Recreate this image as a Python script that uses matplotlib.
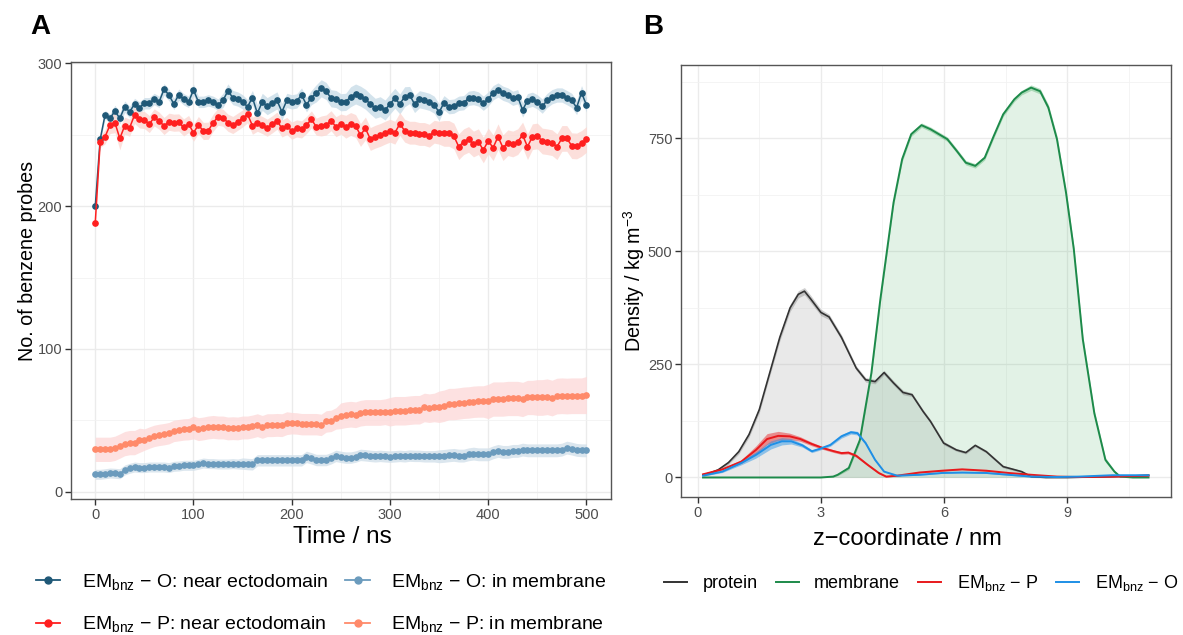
import numpy as np
import matplotlib
matplotlib.use("Agg")
import matplotlib.pyplot as plt
from matplotlib.lines import Line2D
from matplotlib.ticker import MultipleLocator

plt.rcParams['font.family'] = ['Liberation Sans', 'DejaVu Sans']
plt.rcParams['mathtext.fontset'] = 'custom'
plt.rcParams['mathtext.rm'] = 'Liberation Sans'
plt.rcParams['mathtext.it'] = 'Liberation Sans:italic'
plt.rcParams['mathtext.bf'] = 'Liberation Sans:bold'

# ---------------- Panel A data ----------------
time_ns = np.arange(0, 505, 5)

o_near = [200, 246.7, 264, 261.4, 266.6, 261.4, 269.6, 266, 271.5, 269, 272, 272, 275, 273, 281.8, 277.8,
          271.5, 278, 274.8, 273, 281.3, 273, 273, 274, 273, 271, 274, 280.6, 276, 275, 273, 269.6, 276,
          265, 273, 270, 272, 274, 266, 274, 273, 273.6, 277.8, 271, 276, 279, 282.5, 280.6, 275.5, 275,
          272.7, 273, 276.6, 278.5, 277, 274.8, 271.5, 268.5, 269.6, 267.3, 271.5, 275.5, 271.5, 276.6,
          277.8, 271.5, 274.8, 274, 273, 271, 265.7, 272.4, 269.6, 270, 272, 272.4, 275.5, 276, 275, 272,
          275, 279.4, 281.3, 279, 277.8, 275.5, 276.6, 267.3, 273.8, 274.8, 273, 270, 274, 276.6, 277.8,
          277.8, 276, 274, 269, 279.4, 270.8]
o_near_sd = [1, 2, 3, 3, 4, 4, 4, 4, 4, 4, 4, 4, 4, 4, 4, 4, 4, 4, 4, 4, 4,
             4, 4, 4, 4, 4, 5, 5, 5, 5, 5, 5, 5, 6, 6, 6, 6, 6, 6, 5, 5, 5, 5, 5, 5, 6,
             6, 6, 6, 6, 6, 6, 7, 7, 7, 7, 7, 7, 7, 7, 7, 7, 7, 7, 6, 6, 6, 6, 6, 6, 6,
             5, 5, 5, 5, 5, 5, 5, 5, 5, 5, 5, 5, 5, 5, 5, 5, 5, 5, 5, 5, 5, 5, 5, 5, 5, 5, 5, 5, 5, 5]

p_near = [188.3, 245, 248.6, 256.8, 258.4, 247.4, 256.3, 254.9, 263.8, 260.7, 260.3, 257.5, 262.1, 259.8,
          256.1, 259.1, 258.4, 258.6, 255.1, 257.5, 251.4, 256.8, 252.6, 252.8, 258.4, 262.6, 261.9, 258.4,
          256.8, 259.1, 261.4, 264.3, 256.3, 258.4, 256.8, 254.9, 257.2, 259.8, 254.4, 256.1, 252.8, 254.4,
          253.7, 256.8, 260.7, 255.6, 256.1, 256.8, 259.8, 255.6, 257.5, 255.6, 257.5, 256.1, 249.8, 254.4,
          247, 248.6, 249.8, 251.4, 252.8, 251.4, 257.5, 252.8, 251.4, 251.4, 250.5, 250.5, 249.3, 252.1,
          251.4, 250.9, 250.9, 249.1, 241.6, 245.1, 246.7, 243.5, 245.1, 239.3, 245.6, 240.9, 248.6, 240.9,
          244.4, 243.5, 245.1, 249.8, 241.6, 248.6, 249.1, 245.6, 245.1, 244.4, 241.6, 247.4, 247.4, 242.3,
          242.1, 243.9, 246.7]
p_near_sd = [1, 4, 5, 6, 7, 8, 6, 6, 6, 6, 6, 6, 6, 6, 6, 6, 6, 6, 6, 6, 6,
             6, 6, 6, 6, 6, 6, 6, 6, 6, 6, 6, 6, 6, 6, 6, 6, 6, 6, 6, 6, 6, 6, 6, 6, 6,
             7, 7, 7, 7, 7, 8, 8, 8, 8, 8, 8, 8, 8, 8, 8, 8, 8, 8, 8, 8, 8, 8, 8, 8, 8,
             9, 9, 9, 9, 9, 9, 9, 9, 9, 9, 9, 9, 9, 9, 9, 9, 9, 9, 9, 9, 9, 9, 9, 9, 9, 9, 9, 9, 9, 9]

o_mem = [12.2, 12.2, 12.6, 13.1, 12.9, 12.6, 15.2, 16.4, 17.3, 16.9, 16.9, 17.3, 17.3, 17.3, 17.3, 16.9,
         17.8, 18, 18.5, 18.5, 18.5, 19.2, 20.1, 19.7, 19.7, 19.4, 19.4, 19.4, 19.7, 19.4, 19.7, 19.4, 19.2,
         22, 22, 22, 22, 22, 22, 22, 22, 22, 22, 24.4, 23.4, 22.2, 22.2, 22.2, 23.4, 25.1, 24.4, 23.9, 23.9,
         24.6, 25.8, 25.5, 25.1, 24.8, 25.1, 24.8, 24.6, 24.8, 25.1, 24.8, 25.3, 25.1, 25.1, 24.8, 24.8,
         24.8, 24.8, 25.1, 25.5, 25.8, 25.3, 25.3, 26.2, 26.7, 26.2, 26.2, 26.2, 27.6, 28.6, 27.9, 27.9,
         28.6, 28.6, 29.5, 29, 29, 29, 29, 29, 29, 29, 29.5, 30.9, 30.2, 29.3, 29, 29]
o_mem_sd = [3.5] * 30 + [4] * 40 + [4.5] * 31

p_mem = [29.7, 29.7, 29.7, 29.7, 30.4, 32, 33.7, 34.4, 34.4, 36, 36.5, 37.9, 39.1, 39.8, 40.3, 41, 42.6,
         43.1, 43.6, 43.8, 45, 43.8, 44.3, 45, 45.4, 45, 45, 44.3, 44.5, 44.3, 45, 45, 45.7, 46.6, 45.4, 46.6,
         46.6, 46.8, 46.6, 48, 48, 47.8, 47.3, 47.3, 47.3, 47.3, 46.8, 49.2, 49.6, 51.3, 53.2, 53.9, 54.3,
         53.9, 55, 55.5, 55.5, 55.5, 55.5, 56, 56, 56.7, 56.7, 56.7, 57.1, 57.4, 57.4, 59, 58.5, 59, 59.5,
         60.2, 61.4, 61.4, 61.8, 62.3, 62.5, 63, 63.2, 63.2, 63.2, 64.9, 64.9, 64.9, 65.3, 65.3, 65.3, 64.6,
         66, 66, 66, 66, 66.5, 65.6, 67, 67.2, 67, 67.2, 67.2, 67.2, 67.7]
p_mem_sd = ([8.5] * 10 + [7.5] * 10 + [8] * 10 + [8] * 10 + [7.5] * 10 + [9] * 10 + [10] * 10 +
            [11] * 10 + [12] * 10 + [12.5] * 10 + [13])

# ---------------- Panel B data ----------------
prot_z = [0.13, 0.3, 0.5, 0.75, 1.0, 1.25, 1.5, 1.75, 2.0, 2.25, 2.45, 2.6, 2.75, 3.0, 3.2, 3.5, 3.86,
          4.09, 4.32, 4.54, 4.77, 5.0, 5.22, 5.49, 5.67, 5.99, 6.3, 6.53, 6.76, 7.03, 7.44, 7.89, 8.12,
          8.48, 9.0, 9.5, 10.0, 10.5, 10.98]
prot_v = [6, 10, 17, 33, 57, 95, 150, 230, 310, 375, 405, 412, 395, 365, 355, 310, 242,
          216, 212, 232, 209, 188, 183, 146, 124, 76, 61, 55, 71, 57, 24, 13, 2,
          0, 0, 1, 2, 3, 5]
prot_sd = [2, 2, 3, 4, 5, 6, 7, 7, 8, 8, 8, 8, 8, 7, 6, 6, 5,
           5, 5, 5, 5, 5, 4, 4, 4, 4, 3, 3, 3, 3, 3, 2, 2,
           1, 1, 1, 1, 1, 1]

mem_z = [0.13, 1.0, 2.0, 3.0, 3.3, 3.41, 3.68, 3.95, 4.23, 4.45, 4.77, 4.98, 5.2, 5.45, 5.67, 6.08,
         6.31, 6.53, 6.76, 6.99, 7.21, 7.44, 7.71, 7.89, 8.12, 8.34, 8.54, 8.75, 8.97, 9.16, 9.38, 9.66,
         9.93, 10.15, 10.29, 10.6, 10.98]
mem_v = [0, 0, 0, 0, 2, 6, 21, 83, 231, 395, 608, 704, 759, 779, 770, 748,
         722, 696, 689, 707, 755, 803, 836, 851, 862, 854, 818, 748, 630, 505, 305, 142,
         39, 13, 2, 0, 0]
mem_sd = [0, 0, 0, 0, 1, 2, 4, 6, 8, 8, 7, 6, 5, 5, 5, 5,
          5, 5, 5, 5, 5, 5, 5, 5, 6, 6, 7, 8, 8, 8, 8, 7,
          5, 3, 1, 0, 0]

p_z = [0.13, 0.6, 1.06, 1.42, 1.69, 1.96, 2.24, 2.5, 2.78, 3.05, 3.32, 3.5, 3.67, 3.86, 4.14, 4.41, 4.59,
       4.86, 5.4, 5.95, 6.44, 7.03, 7.57, 8.12, 8.75, 9.29, 10.1, 10.98]
p_v = [7, 18, 35, 61, 85, 92, 91, 85, 74, 65, 58, 54, 55, 48, 28, 10, 2,
       4, 11, 15, 18, 15, 10, 6, 2, 1, 2, 4]
p_sd = [1, 2, 4, 9, 12, 10, 7, 5, 4, 3, 3, 3, 3, 3, 2, 2, 1,
        1, 1, 1, 1, 1, 1, 1, 1, 1, 1, 1]

o_z = [0.13, 0.6, 1.06, 1.42, 1.78, 2.05, 2.28, 2.55, 2.78, 2.96, 3.23, 3.5, 3.73, 3.89, 4.09, 4.32, 4.54,
       4.86, 5.4, 5.95, 6.44, 7.03, 7.57, 8.12, 8.75, 9.29, 10.1, 10.98]
o_v = [4, 13, 32, 50, 72, 80, 80, 71, 58, 63, 72, 91, 100, 98, 76, 39, 13,
       4, 6, 10, 11, 10, 6, 2, 1, 2, 5, 5]
o_sd = [1, 2, 4, 7, 9, 8, 6, 4, 3, 3, 3, 4, 4, 4, 3, 2, 1,
        1, 1, 1, 1, 1, 1, 1, 1, 1, 1, 1]

# ---------------- colours ----------------
c_o_near = '#1f5877'
c_p_near = '#ff1f1f'
c_o_mem = '#6b9bbd'
c_p_mem = '#ff8a6a'
c_prot = '#333333'
c_mem = '#1d8a4a'
c_p = '#e8191c'
c_o = '#1e8fe6'

W, H = 1183, 635
fig = plt.figure(figsize=(W / 100, H / 100), dpi=100)
axA = fig.add_axes([70.7 / W, 1 - 499.3 / H, (611 - 70.7) / W, (499.3 - 62.3) / H])
axB = fig.add_axes([680.7 / W, 1 - 497.3 / H, (1170.7 - 680.7) / W, (497.3 - 65) / H])


def style(ax):
    ax.set_axisbelow(True)
    ax.grid(which='major', color='#EBEBEB', lw=1.0)
    ax.grid(which='minor', color='#F2F2F2', lw=0.6)
    for s in ax.spines.values():
        s.set_color('#555555')
        s.set_linewidth(1.0)
    ax.tick_params(which='major', length=4, width=1, color='#333333', labelcolor='#4D4D4D', labelsize=10.5,
                   pad=2)
    ax.tick_params(which='minor', length=0)


# ---------------- Panel A ----------------
t = np.asarray(time_ns)
for vals, sd, col, fcol in [(o_near, o_near_sd, c_o_near, '#c9dce8'),
                            (p_near, p_near_sd, c_p_near, '#fcd8d2'),
                            (o_mem, o_mem_sd, c_o_mem, '#d2e0ea'),
                            (p_mem, p_mem_sd, c_p_mem, '#fddada')]:
    v = np.asarray(vals)
    s = np.asarray(sd)
    axA.fill_between(t, v - s, v + s, color=fcol, alpha=0.8, lw=0, zorder=1)
for vals, col in [(o_near, c_o_near), (p_near, c_p_near), (o_mem, c_o_mem), (p_mem, c_p_mem)]:
    axA.plot(t, vals, color=col, lw=1.1, marker='o', ms=3.8, zorder=3)

axA.set_xlim(-25, 525)
axA.set_ylim(-5.3, 300.7)
axA.xaxis.set_major_locator(MultipleLocator(100))
axA.xaxis.set_minor_locator(MultipleLocator(50))
axA.yaxis.set_major_locator(MultipleLocator(100))
axA.yaxis.set_minor_locator(MultipleLocator(50))
style(axA)
axA.set_xlabel('Time / ns', fontsize=17.5, color='black')
axA.xaxis.set_label_coords(0.502, -0.06)
axA.set_ylabel('No. of benzene probes', fontsize=14.2, color='black')
axA.yaxis.set_label_coords(-0.062, 0.545)

# ---------------- Panel B ----------------
pz, pv, ps = map(np.asarray, (prot_z, prot_v, prot_sd))
mz, mv, ms_ = map(np.asarray, (mem_z, mem_v, mem_sd))
axB.fill_between(pz, 0, pv, color='#9e9e9e', alpha=0.22, lw=0, zorder=1)
axB.fill_between(mz, 0, mv, color='#41ab5d', alpha=0.15, lw=0, zorder=1)
axB.fill_between(pz, pv - ps, pv + ps, color='#777777', alpha=0.35, lw=0, zorder=2)
axB.fill_between(mz, mv - ms_, mv + ms_, color='#41ab5d', alpha=0.35, lw=0, zorder=2)
for zz, vv, ss, col in [(p_z, p_v, p_sd, c_p), (o_z, o_v, o_sd, c_o)]:
    zz, vv, ss = map(np.asarray, (zz, vv, ss))
    axB.fill_between(zz, vv - ss, vv + ss, color=col, alpha=0.45, lw=0, zorder=2)
axB.plot(pz, pv, color=c_prot, lw=1.2, zorder=3)
axB.plot(mz, mv, color=c_mem, lw=1.4, zorder=3)
axB.plot(p_z, p_v, color=c_p, lw=1.4, zorder=4)
axB.plot(o_z, o_v, color=c_o, lw=1.4, zorder=4)

axB.set_xlim(-0.414, 11.52)
axB.set_ylim(-43.8, 912)
axB.xaxis.set_major_locator(MultipleLocator(3))
axB.xaxis.set_minor_locator(MultipleLocator(1.5))
axB.yaxis.set_major_locator(MultipleLocator(250))
axB.yaxis.set_minor_locator(MultipleLocator(125))
style(axB)
axB.set_xlabel('z\u2212coordinate / nm', fontsize=17, color='black')
axB.xaxis.set_label_coords(0.462, -0.07)
axB.set_ylabel(r'Density / kg m$^{-3}$', fontsize=14.2, color='black')
axB.yaxis.set_label_coords(-0.069, 0.5)

# ---------------- Panel labels ----------------
fig.text(30 / W, 1 - 27 / H, 'A', fontsize=20, fontweight='bold', va='center', ha='left')
fig.text(643 / W, 1 - 27 / H, 'B', fontsize=20, fontweight='bold', va='center', ha='left')

# ---------------- Legends ----------------
lab_o_near = 'EM$_{\\mathrm{bnz}}$ \u2212 O: near ectodomain'
lab_p_near = 'EM$_{\\mathrm{bnz}}$ \u2212 P: near ectodomain'
lab_o_mem = 'EM$_{\\mathrm{bnz}}$ \u2212 O: in membrane'
lab_p_mem = 'EM$_{\\mathrm{bnz}}$ \u2212 P: in membrane'
hA = [Line2D([], [], color=c_o_near, marker='o', ms=5, lw=1.3),
      Line2D([], [], color=c_p_near, marker='o', ms=5, lw=1.3),
      Line2D([], [], color=c_o_mem, marker='o', ms=5, lw=1.3),
      Line2D([], [], color=c_p_mem, marker='o', ms=5, lw=1.3)]
fig.legend(handles=hA, labels=[lab_o_near, lab_p_near, lab_o_mem, lab_p_mem], ncol=2,
           loc='upper left', bbox_to_anchor=(36 / W, 1 - 572 / H), frameon=False, fontsize=14,
           borderpad=0, handlelength=1.25, handletextpad=1.1, columnspacing=0.9, labelspacing=1.15,
           borderaxespad=0)

hB = [Line2D([], [], color=c_prot, lw=1.4), Line2D([], [], color=c_mem, lw=1.4),
      Line2D([], [], color=c_p, lw=1.4), Line2D([], [], color=c_o, lw=1.4)]
fig.legend(handles=hB, labels=['protein', 'membrane', 'EM$_{\\mathrm{bnz}}$ \u2212 P',
                               'EM$_{\\mathrm{bnz}}$ \u2212 O'],
           ncol=4, loc='upper left', bbox_to_anchor=(664 / W, 1 - 573 / H), frameon=False, fontsize=13,
           borderpad=0, handlelength=1.28, handletextpad=0.85, columnspacing=1.0, borderaxespad=0)

fig.savefig('out.png', dpi=100, facecolor='white')
